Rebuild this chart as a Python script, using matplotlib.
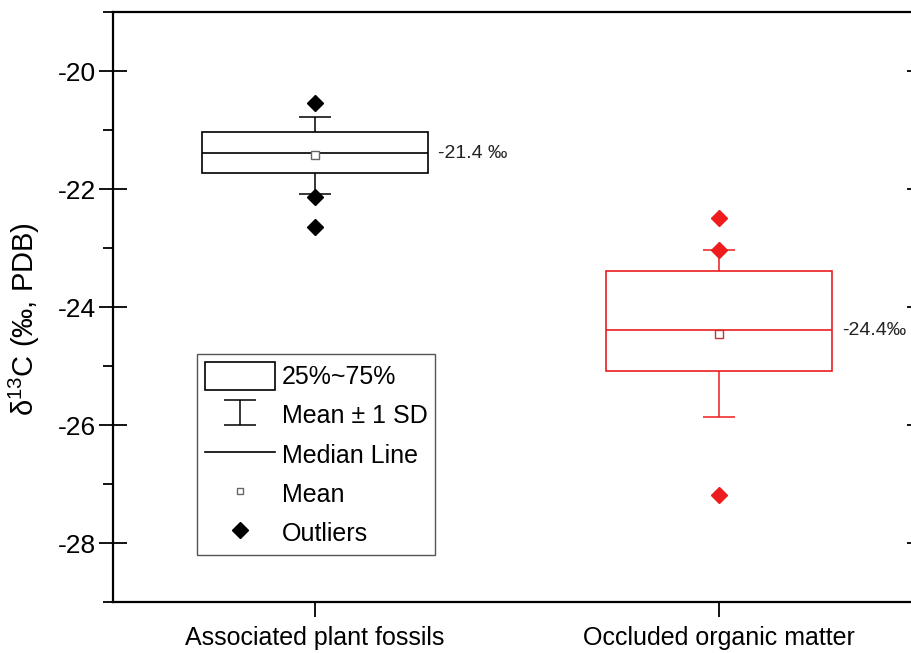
#!/usr/bin/env python3
"""Box chart of d13C values for plant fossils and occluded organic matter."""
import matplotlib
matplotlib.use("Agg")
import matplotlib.pyplot as plt
from matplotlib.lines import Line2D
from matplotlib.patches import Patch
from matplotlib.ticker import MultipleLocator

plt.rcParams['font.family'] = ['Liberation Sans', 'DejaVu Sans']
plt.rcParams['axes.unicode_minus'] = False
plt.rcParams['mathtext.fontset'] = 'custom'
plt.rcParams['mathtext.rm'] = 'Liberation Sans'
plt.rcParams['mathtext.it'] = 'Liberation Sans:italic'

# values
categories = ["Associated plant fossils", "Occluded organic matter"]
positions = [1, 2]
q1 = [-21.73, -25.08]
q3 = [-21.04, -23.39]
medians = [-21.39, -24.39]
means = [-21.43, -24.45]
sds = [0.66, 1.42]
outliers = [[-20.54, -22.13, -22.65], [-22.49, -23.03, -27.19]]
mean_labels = ["-21.4 \u2030", "-24.4\u2030"]
colors = ["black", "#ee1c1c"]
mean_colors = ["#666666", "#c83232"]

box_width = 0.56

fig = plt.figure(figsize=(9.11, 6.53), dpi=100)
ax = fig.add_axes([0.124, 0.078, 0.887, 0.9035])

sd_bars = []
for i, x in enumerate(positions):
    c = colors[i]
    # mean +/- 1 SD whiskers, hidden behind the white box
    eb = ax.errorbar(x, means[i], yerr=sds[i], fmt='none', ecolor=c,
                     elinewidth=1.1, capsize=11.5, capthick=1.1, zorder=1)
    sd_bars.append(eb)
    ax.bar(x, q3[i] - q1[i], bottom=q1[i], width=box_width,
           facecolor='white', edgecolor=c, linewidth=1.2, zorder=2)
    ax.hlines(medians[i], x - box_width / 2, x + box_width / 2,
              colors=c, linewidth=1.2, zorder=3)
    ax.plot(x, means[i], 's', ms=5.5, mfc='white', mec=mean_colors[i],
            mew=1.0, zorder=4)
    ax.plot([x] * len(outliers[i]), outliers[i], 'D', ms=8.5, color=c,
            zorder=5)
    ax.text(x + box_width / 2 + 0.025, medians[i], mean_labels[i],
            fontsize=14, ha='left', va='center', color='#222222')

ax.set_xlim(0.5, 2.5)
ax.set_ylim(-29, -19)
ax.set_xticks(positions)
ax.set_xticklabels(categories, fontsize=18)
ax.yaxis.set_major_locator(MultipleLocator(2))
ax.yaxis.set_minor_locator(MultipleLocator(1))
ax.tick_params(axis='y', which='major', direction='inout', length=20,
               width=1.3, labelsize=19, right=True, pad=2)
ax.tick_params(axis='y', which='minor', direction='out', length=7,
               width=1.3)
ax.tick_params(axis='x', direction='out', length=11, width=1.3, pad=6)
for s in ax.spines.values():
    s.set_linewidth(1.6)

ax.set_ylabel("\u03b4$^{13}$C (\u2030, PDB)", fontsize=21)
ax.yaxis.set_label_coords(-0.088, 0.48)

handles = [
    Patch(facecolor='white', edgecolor='black', linewidth=1.2),
    sd_bars[0],
    Line2D([], [], color='black', linewidth=1.2),
    Line2D([], [], marker='s', ls='none', ms=5, mfc='white', mec='#666666'),
    Line2D([], [], marker='D', ls='none', ms=8.5, color='black'),
]
labels = ["25%~75%", "Mean \u00b1 1 SD", "Median Line", "Mean", "Outliers"]
leg = ax.legend(handles, labels, loc='upper left',
                bbox_to_anchor=(0.104, 0.42), fontsize=18,
                handlelength=2.8, handleheight=1.35, labelspacing=0.45,
                handletextpad=0.3, borderpad=0.3, borderaxespad=0,
                fancybox=False, framealpha=1)
leg.get_frame().set_edgecolor('#555555')
leg.get_frame().set_linewidth(1.0)

fig.savefig("out.png", dpi=100)
